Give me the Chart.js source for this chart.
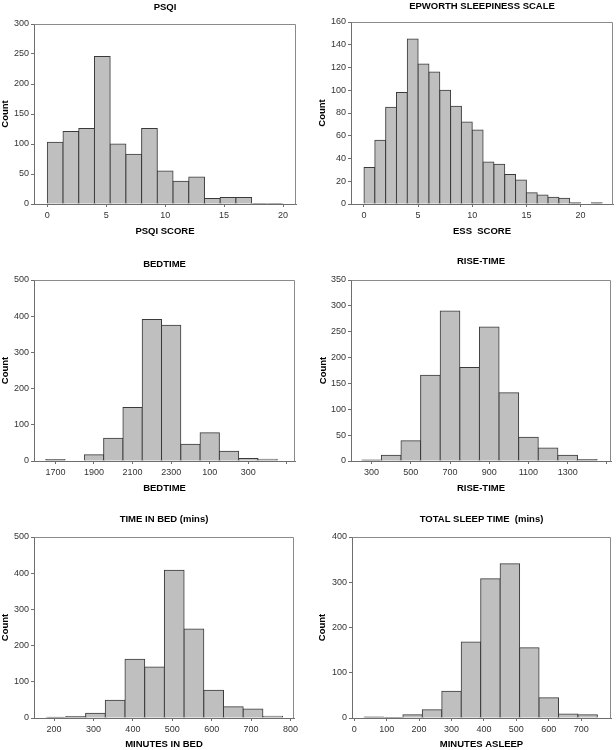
<!DOCTYPE html>
<html lang="en">
<head>
<meta charset="UTF-8">
<title>Sleep questionnaire histograms</title>
<script src="https://cdn.jsdelivr.net/npm/chart.js@4.4.0/dist/chart.umd.min.js"></script>
<style>
  body { margin: 0; background: #fff; }
  #wrap { position: relative; width: 616px; height: 750px; }
  #wrap canvas { position: absolute; }
</style>
</head>
<body>
<div id="wrap">
  <canvas id="psqi" width="308" height="250" style="left:0;top:0"></canvas>
  <canvas id="ess" width="308" height="250" style="left:308px;top:0"></canvas>
  <canvas id="bed" width="308" height="250" style="left:0;top:250px"></canvas>
  <canvas id="rise" width="308" height="250" style="left:308px;top:250px"></canvas>
  <canvas id="tib" width="308" height="250" style="left:0;top:500px"></canvas>
  <canvas id="tst" width="308" height="250" style="left:308px;top:500px"></canvas>
</div>
<script>
// ---- data (bin centres + counts) ----
const psqiBins   = [0.667, 2, 3.333, 4.667, 6, 7.333, 8.667, 10, 11.333, 12.667, 14, 15.333, 16.667, 18, 19.333];
const psqiCounts = [103, 121, 126, 246, 100, 83, 126, 55, 38, 45, 9, 11, 11, 1, 1];
const psqiTicks  = [0, 5, 10, 15, 20];
const psqiLabels = ['0', '5', '10', '15', '20'];

const essBins   = [0.5, 1.5, 2.5, 3.5, 4.5, 5.5, 6.5, 7.5, 8.5, 9.5, 10.5, 11.5, 12.5, 13.5, 14.5, 15.5, 16.5, 17.5, 18.5, 19.5, 20.5, 21.5];
const essCounts = [32, 56, 85, 98, 145, 123, 116, 100, 86, 72, 65, 37, 35, 26, 21, 10, 8, 6, 5, 1, 0, 1];
const essTicks  = [0, 5, 10, 15, 20];
const essLabels = ['0', '5', '10', '15', '20'];

// bedtime in clock hours past midnight of the previous day (24 = 000, 25 = 100 ...)
const bedHours  = [17, 18, 19, 20, 21, 22, 23, 24, 25, 26, 27, 28];
const bedCounts = [4, 0, 17, 63, 148, 391, 375, 46, 78, 27, 7, 5];
const bedTicks  = [17, 19, 21, 23, 25, 27, 29];
const bedLabels = ['1700', '1900', '2100', '2300', '100', '300', ''];

const riseTimes  = [300, 400, 500, 600, 700, 800, 900, 1000, 1100, 1200, 1300, 1400];
const riseCounts = [2, 11, 39, 166, 290, 181, 259, 132, 46, 25, 11, 3];
const riseTicks  = [300, 500, 700, 900, 1100, 1300, 1500];
const riseLabels = ['300', '500', '700', '900', '1100', '1300', ''];

const tibBins   = [205, 255, 305, 355, 405, 455, 505, 555, 605, 655, 705, 755];
const tibCounts = [2, 4, 13, 49, 162, 141, 408, 246, 77, 31, 25, 5];
const tibTicks  = [200, 300, 400, 500, 600, 700, 800];
const tibLabels = ['200', '300', '400', '500', '600', '700', '800'];

const tstBins   = [60, 120, 180, 240, 300, 360, 420, 480, 540, 600, 660, 720];
const tstCounts = [2, 1, 7, 18, 59, 168, 308, 341, 155, 45, 9, 7];
const tstTicks  = [0, 100, 200, 300, 400, 500, 600, 700];
const tstLabels = ['0', '100', '200', '300', '400', '500', '600', '700'];

const FONT = "'Liberation Sans', Arial, sans-serif";
const AXIS = '#6e6e6e';

// grey box round the plot area (top + right sides; left/bottom come from the axes)
const framePlugin = {
  id: 'frame',
  afterDatasetsDraw(chart) {
    const { ctx, chartArea: a } = chart;
    const l = Math.round(a.left) + 0.5, t = Math.round(a.top) + 0.5;
    const r = Math.round(a.right) - 0.5, b = Math.round(a.bottom) + 0.5;
    ctx.save();
    ctx.strokeStyle = '#8a8a8a';
    ctx.lineWidth = 1;
    ctx.beginPath();
    ctx.moveTo(l, t);
    ctx.lineTo(r, t);
    ctx.lineTo(r, b);
    ctx.stroke();
    ctx.restore();
  }
};

function histogram(id, o) {
  const W = 308, H = 250;
  return new Chart(document.getElementById(id), {
    type: 'bar',
    data: {
      datasets: [{
        data: o.bins.map((x, i) => ({ x: x, y: o.counts[i] })),
        backgroundColor: '#bfbfbf',
        borderColor: '#3a3a3a',
        borderWidth: 1,
        inflateAmount: 0.5,
        barPercentage: 1,
        categoryPercentage: 1
      }]
    },
    options: {
      responsive: false,
      animation: false,
      devicePixelRatio: 1,
      layout: { padding: { left: 0, top: 0, right: W - o.area.r, bottom: 0 } },
      plugins: {
        legend: { display: false },
        tooltip: { enabled: false },
        title: {
          display: true,
          text: o.title,
          fullSize: false,
          color: '#000',
          font: { family: FONT, size: 9.5, weight: 'bold', lineHeight: 1 },
          padding: { top: o.titleY - 4.75, bottom: o.area.t - (o.titleY - 4.75) - 9.5 }
        }
      },
      scales: {
        x: {
          type: 'linear',
          offset: false,
          min: o.xMin,
          max: o.xMax,
          afterBuildTicks: s => { s.ticks = o.ticks.map(v => ({ value: v })); },
          afterFit: s => { s.height = H - o.area.b; },
          grid: { offset: false, drawOnChartArea: false, drawTicks: true, tickLength: 3, color: AXIS },
          border: { display: true, color: AXIS },
          ticks: {
            autoSkip: false, maxRotation: 0, padding: 3, color: '#333',
            font: { family: FONT, size: 9 },
            callback: (v, i) => o.labels[i]
          },
          title: {
            display: true, text: o.xTitle, color: '#000',
            font: { family: FONT, size: 9.5, weight: 'bold', lineHeight: 1 },
            padding: { top: 0, bottom: H - o.xTitleY - 4.75 }
          }
        },
        y: {
          min: 0,
          max: o.yMax,
          afterFit: s => { s.width = o.area.l; },
          grid: { drawOnChartArea: false, drawTicks: true, tickLength: 3, color: AXIS },
          border: { display: true, color: AXIS },
          ticks: { stepSize: o.yStep, padding: 2, color: '#333', font: { family: FONT, size: 9 } },
          title: {
            display: true, text: 'Count', color: '#000',
            font: { family: FONT, size: 9.5, weight: 'bold', lineHeight: 1 },
            padding: { top: o.yTitleX - 4.75, bottom: 0 }
          }
        }
      }
    },
    plugins: [framePlugin]
  });
}

histogram('psqi', {
  bins: psqiBins, counts: psqiCounts, ticks: psqiTicks, labels: psqiLabels,
  title: 'PSQI', xTitle: 'PSQI SCORE', xMin: -1.13, xMax: 21.1, yMax: 300, yStep: 50,
  area: { l: 34, t: 24, r: 296, b: 204 }, titleY: 7.5, xTitleY: 231, yTitleX: 5
});
histogram('ess', {
  bins: essBins, counts: essCounts, ticks: essTicks, labels: essLabels,
  title: 'EPWORTH SLEEPINESS SCALE', xTitle: 'ESS  SCORE', xMin: -1.2, xMax: 23, yMax: 160, yStep: 20,
  area: { l: 43, t: 22, r: 305, b: 204 }, titleY: 6, xTitleY: 231.5, yTitleX: 14
});
histogram('bed', {
  bins: bedHours, counts: bedCounts, ticks: bedTicks, labels: bedLabels,
  title: 'BEDTIME', xTitle: 'BEDTIME', xMin: 15.89, xMax: 29.42, yMax: 500, yStep: 100,
  area: { l: 34, t: 30, r: 295, b: 211 }, titleY: 14, xTitleY: 238, yTitleX: 5.3
});
histogram('rise', {
  bins: riseTimes, counts: riseCounts, ticks: riseTicks, labels: riseLabels,
  title: 'RISE-TIME', xTitle: 'RISE-TIME', xMin: 195, xMax: 1521, yMax: 350, yStep: 50,
  area: { l: 43, t: 30, r: 303, b: 211 }, titleY: 11.7, xTitleY: 238, yTitleX: 15
});
histogram('tib', {
  bins: tibBins, counts: tibCounts, ticks: tibTicks, labels: tibLabels,
  title: 'TIME IN BED (mins)', xTitle: 'MINUTES IN BED', xMin: 149, xMax: 809, yMax: 500, yStep: 100,
  area: { l: 34, t: 37, r: 294, b: 218 }, titleY: 19, xTitleY: 244, yTitleX: 5.3
});
histogram('tst', {
  bins: tstBins, counts: tstCounts, ticks: tstTicks, labels: tstLabels,
  title: 'TOTAL SLEEP TIME  (mins)', xTitle: 'MINUTES ASLEEP', xMin: -7, xMax: 792, yMax: 400, yStep: 100,
  area: { l: 44, t: 37, r: 303, b: 218 }, titleY: 19.3, xTitleY: 244, yTitleX: 14
});
</script>
</body>
</html>
